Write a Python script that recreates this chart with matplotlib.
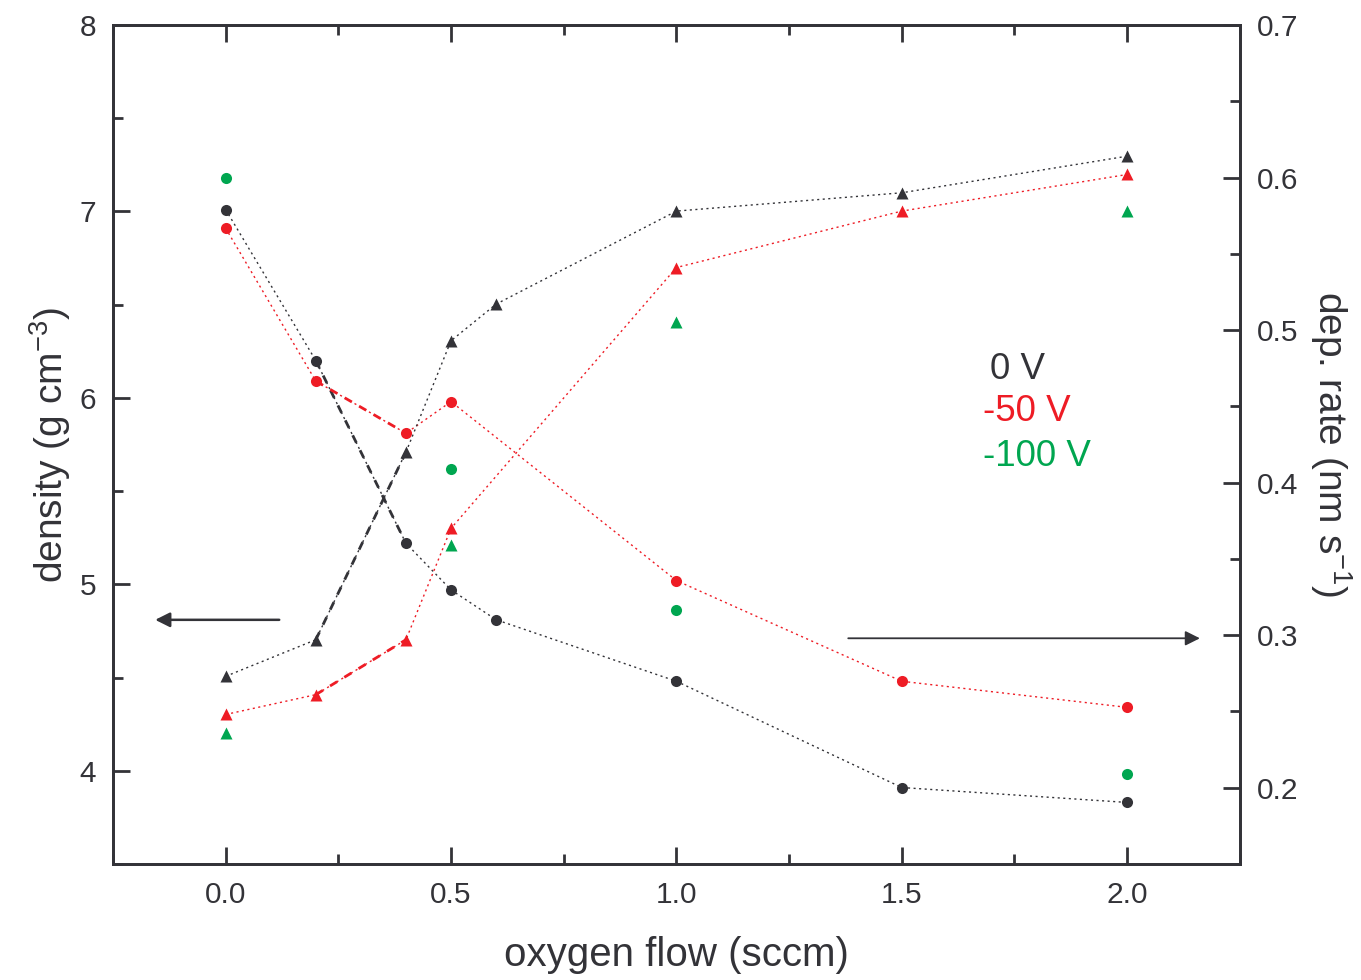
import numpy as np
import matplotlib
matplotlib.use("Agg")
import matplotlib.pyplot as plt
from matplotlib.ticker import MultipleLocator

plt.rcParams['font.family'] = ['Liberation Sans', 'DejaVu Sans']

# density (left axis), circles
x_black_d = [0.0, 0.2, 0.4, 0.5, 0.6, 1.0, 1.5, 2.0]
dens_0V = [7.01, 6.20, 5.22, 4.97, 4.81, 4.48, 3.91, 3.83]
x_red_d = [0.0, 0.2, 0.4, 0.5, 1.0, 1.5, 2.0]
dens_50V = [6.91, 6.09, 5.81, 5.98, 5.02, 4.48, 4.34]
x_green_d = [0.0, 0.5, 1.0, 2.0]
dens_100V = [7.18, 5.62, 4.86, 3.98]

# deposition rate (right axis), triangles
x_black_r = [0.0, 0.2, 0.4, 0.5, 0.6, 1.0, 1.5, 2.0]
rate_0V = [0.273, 0.297, 0.420, 0.493, 0.517, 0.578, 0.590, 0.614]
x_red_r = [0.0, 0.2, 0.4, 0.5, 1.0, 1.5, 2.0]
rate_50V = [0.248, 0.261, 0.297, 0.370, 0.541, 0.578, 0.602]
x_green_r = [0.0, 0.5, 1.0, 2.0]
rate_100V = [0.236, 0.359, 0.505, 0.578]

dark = '#333338'
red = '#ee1c25'
green = '#00a650'

fig = plt.figure(figsize=(13.61, 9.8), dpi=100)
ax = fig.add_axes([0.083, 0.1184, 0.828, 0.8561])
ax2 = ax.twinx()

dot = dict(linestyle=(0, (1.5, 2.5)), linewidth=1.0)
dash = dict(linestyle=(0, (3, 3)), linewidth=2.0)

# density lines
ax.plot(x_black_d, dens_0V, color=dark, **dot)
ax.plot(x_black_d[1:3], dens_0V[1:3], color=dark, **dash)
ax.plot(x_red_d, dens_50V, color=red, **dot)
ax.plot(x_red_d[1:3], dens_50V[1:3], color=red, **dash)
ax.plot(x_black_d, dens_0V, 'o', color=dark, ms=8, mec='none')
ax.plot(x_red_d, dens_50V, 'o', color=red, ms=8, mec='none')
ax.plot(x_green_d, dens_100V, 'o', color=green, ms=8, mec='none')

# rate lines
ax2.plot(x_black_r, rate_0V, color=dark, **dot)
ax2.plot(x_black_r[1:3], rate_0V[1:3], color=dark, **dash)
ax2.plot(x_red_r, rate_50V, color=red, **dot)
ax2.plot(x_red_r[1:3], rate_50V[1:3], color=red, **dash)
ax2.plot(x_black_r, rate_0V, '^', color=dark, ms=9, mec='none')
ax2.plot(x_red_r, rate_50V, '^', color=red, ms=9, mec='none')
ax2.plot(x_green_r, rate_100V, '^', color=green, ms=9, mec='none')

ax.set_xlim(-0.25, 2.25)
ax.set_ylim(3.5, 8)
ax2.set_ylim(0.15, 0.7)

ax.xaxis.set_major_locator(MultipleLocator(0.5))
ax.xaxis.set_minor_locator(MultipleLocator(0.25))
ax.yaxis.set_major_locator(MultipleLocator(1))
ax.yaxis.set_minor_locator(MultipleLocator(0.5))
ax2.yaxis.set_major_locator(MultipleLocator(0.1))
ax2.yaxis.set_minor_locator(MultipleLocator(0.05))
ax.xaxis.set_major_formatter(matplotlib.ticker.FormatStrFormatter('%.1f'))
ax.yaxis.set_major_formatter(matplotlib.ticker.FormatStrFormatter('%d'))
ax2.yaxis.set_major_formatter(matplotlib.ticker.FormatStrFormatter('%.1f'))

for a in (ax, ax2):
    for s in a.spines.values():
        s.set_linewidth(2)
        s.set_color(dark)
    a.tick_params(which='major', direction='in', length=12, width=2, color=dark,
                  labelsize=21.5, labelcolor=dark, pad=12)
    a.tick_params(which='minor', direction='in', length=7, width=2, color=dark)
ax.tick_params(which='both', top=True, right=False)
ax2.tick_params(which='both', left=False, right=True)

ax.set_xlabel('oxygen flow (sccm)', fontsize=29, color=dark, labelpad=20)
ax.set_ylabel('density (g cm$^{\\mathregular{-3}}$)', fontsize=28, color=dark, labelpad=5)
ax2.set_ylabel('dep. rate (nm s$^{\\mathregular{-1}}$)', fontsize=28, color=dark,
               rotation=270, labelpad=40)

# arrows
ax.annotate('', xy=(0.035, 0.291), xytext=(0.15, 0.291), xycoords='axes fraction',
            arrowprops=dict(arrowstyle='-|>', color=dark, lw=1.8, mutation_scale=22))
ax.annotate('', xy=(0.967, 0.269), xytext=(0.650, 0.269), xycoords='axes fraction',
            arrowprops=dict(arrowstyle='-|>', color=dark, lw=1.3, mutation_scale=22))

# labels for the bias voltages
ax.text(0.778, 0.589, '0 V', transform=ax.transAxes, fontsize=26.5, color=dark, va='center')
ax.text(0.772, 0.539, '-50 V', transform=ax.transAxes, fontsize=26.5, color=red, va='center')
ax.text(0.772, 0.486, '-100 V', transform=ax.transAxes, fontsize=26.5, color=green, va='center')

fig.savefig('out.png', dpi=100)
